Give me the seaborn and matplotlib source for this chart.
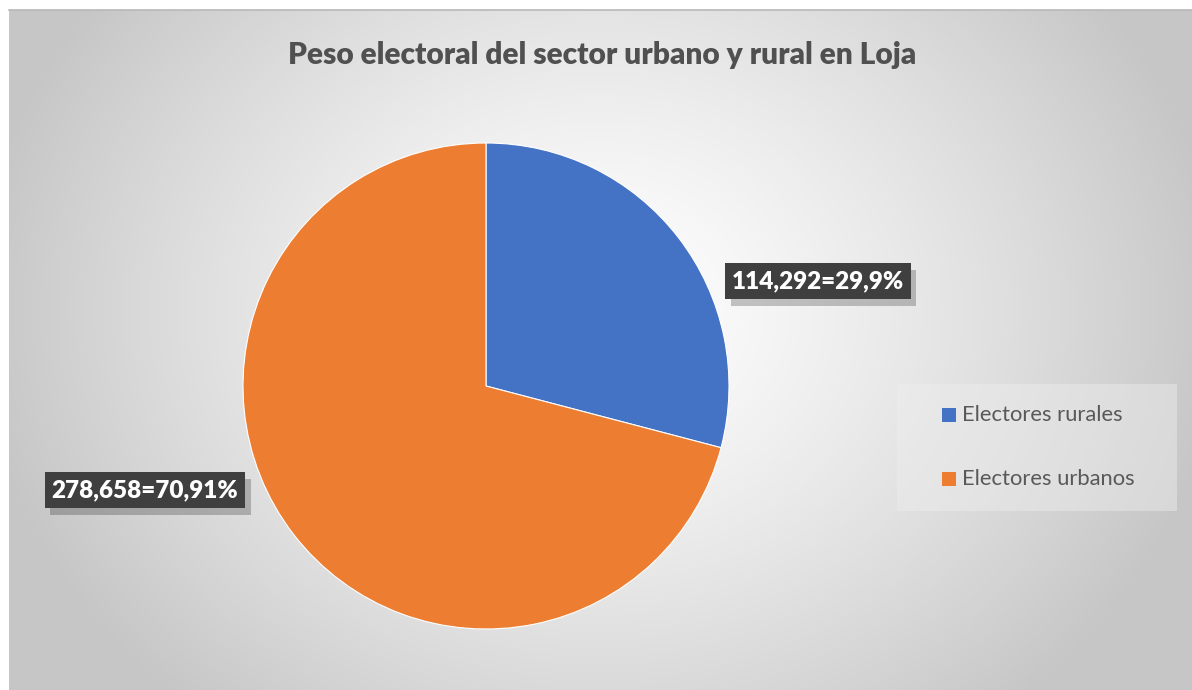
import numpy as np
import matplotlib
matplotlib.use("Agg")
import matplotlib.pyplot as plt
import matplotlib.patheffects as pe
import seaborn as sns

sns.set_theme(style="white")
plt.rcParams["font.family"] = ["Lato", "DejaVu Sans"]

# Data
categories = ["Electores rurales", "Electores urbanos"]
voters = [114292, 278658]
value_labels = ["114,292=29,9%", "278,658=70,91%"]
colors = ["#4472C4", "#ED7D31"]
title = "Peso electoral del sector urbano y rural en Loja"

W, H = 1192, 690
fig = plt.figure(figsize=(W / 100, H / 100), dpi=100)
fig.patch.set_facecolor("white")

# Chart area with radial grey gradient
bg = fig.add_axes([9 / W, 0, 1 - 9 / W, 1 - 10 / H])
yy, xx = np.mgrid[0:H - 10, 0:W - 9]
cx, cy = 590, 300
r = np.sqrt(((xx - cx) / 620.0) ** 2 + ((yy - cy) / 520.0) ** 2)
r = np.clip(r, 0, 1)
shade = 1.0 - 0.22 * r ** 1.3
img = np.dstack([shade, shade, shade])
bg.imshow(img, aspect="auto", extent=[0, 1, 0, 1], origin="upper")
bg.set_xlim(0, 1)
bg.set_ylim(0, 1)
bg.set_xticks([])
bg.set_yticks([])
for side in ["left", "bottom", "right"]:
    bg.spines[side].set_visible(False)
bg.spines["top"].set_color("#b8b8b8")
bg.spines["top"].set_linewidth(1.2)

# Legend backdrop panel
panel = plt.Rectangle((897 / W, 1 - 511 / H), 280 / W, 127 / H,
                      transform=fig.transFigure, facecolor="#eeeeee",
                      edgecolor="none", alpha=0.45, zorder=1)
fig.patches.append(panel)

# Pie
cxp, cyp, rad = 486, 386, 243
ax = fig.add_axes([(cxp - rad) / W, (H - cyp - rad) / H, 2 * rad / W, 2 * rad / H])
wedges, _ = ax.pie(voters, colors=colors, startangle=90, counterclock=False,
                   wedgeprops=dict(edgecolor="white", linewidth=0.8))
ax.set_xlim(-1, 1)
ax.set_ylim(-1, 1)
ax.set_aspect("equal")
ax.axis("off")

# Data labels in dark boxes with a soft shadow
label_pos = [(818, 281), (145, 490)]
for (px, py), txt in zip(label_pos, value_labels):
    t = fig.text(px / W, 1 - py / H, txt, ha="center", va="center",
                 fontsize=17.5, fontweight="heavy", color="white",
                 bbox=dict(boxstyle="square,pad=0.28", facecolor="#3f3f3f",
                           edgecolor="none"), zorder=5)
    t.get_bbox_patch().set_path_effects(
        [pe.SimplePatchShadow(offset=(4, -5), shadow_rgbFace="black", alpha=0.22),
         pe.Normal()])

# Legend
leg_rows = [415, 479]
for (cat, col, ly) in zip(categories, colors, leg_rows):
    fig.patches.append(plt.Rectangle((942 / W, 1 - (ly + 7) / H), 14 / W, 14 / H,
                                     transform=fig.transFigure, facecolor=col,
                                     edgecolor="none", zorder=6))
    fig.text(962 / W, 1 - ly / H, cat, ha="left", va="center",
             fontsize=15.8, color="#595959", zorder=6)

# Title
fig.text(602 / W, 1 - 55 / H, title, ha="center", va="center",
         fontsize=21.5, fontweight="heavy", color="#505050")

fig.savefig("out.png", dpi=100)
